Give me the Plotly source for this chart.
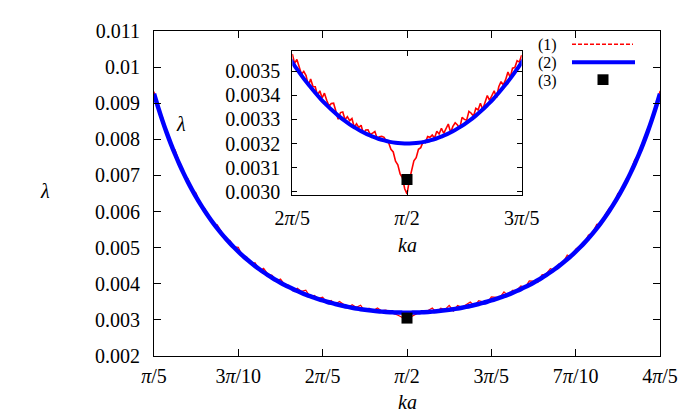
import plotly.graph_objects as go

# ---------------- data (ka in units of pi) ----------------
ka_curve = [0.200, 0.205, 0.210, 0.215, 0.220, 0.225, 0.230, 0.235, 0.240, 0.245,
            0.250, 0.255, 0.260, 0.265, 0.270, 0.275, 0.280, 0.285, 0.290, 0.295,
            0.300, 0.305, 0.310, 0.315, 0.320, 0.325, 0.330, 0.335, 0.340, 0.345,
            0.350, 0.355, 0.360, 0.365, 0.370, 0.375, 0.380, 0.385, 0.390, 0.395,
            0.400, 0.405, 0.410, 0.415, 0.420, 0.425, 0.430, 0.435, 0.440, 0.445,
            0.450, 0.455, 0.460, 0.465, 0.470, 0.475, 0.480, 0.485, 0.490, 0.495,
            0.500, 0.505, 0.510, 0.515, 0.520, 0.525, 0.530, 0.535, 0.540, 0.545,
            0.550, 0.555, 0.560, 0.565, 0.570, 0.575, 0.580, 0.585, 0.590, 0.595,
            0.600, 0.605, 0.610, 0.615, 0.620, 0.625, 0.630, 0.635, 0.640, 0.645,
            0.650, 0.655, 0.660, 0.665, 0.670, 0.675, 0.680, 0.685, 0.690, 0.695,
            0.700, 0.705, 0.710, 0.715, 0.720, 0.725, 0.730, 0.735, 0.740, 0.745,
            0.750, 0.755, 0.760, 0.765, 0.770, 0.775, 0.780, 0.785, 0.790, 0.795,
            0.800]

# series (2): smooth curve
lam_curve = [0.009262, 0.008877, 0.008518, 0.008186, 0.007876, 0.007587, 0.007317, 0.007065, 0.006829, 0.006608,
             0.006400, 0.006205, 0.006022, 0.005850, 0.005687, 0.005534, 0.005390, 0.005254, 0.005125, 0.005004,
             0.004889, 0.004781, 0.004678, 0.004581, 0.004489, 0.004402, 0.004319, 0.004241, 0.004167, 0.004097,
             0.004031, 0.003968, 0.003909, 0.003852, 0.003799, 0.003749, 0.003702, 0.003657, 0.003615, 0.003575,
             0.003538, 0.003503, 0.003470, 0.003440, 0.003411, 0.003384, 0.003360, 0.003337, 0.003316, 0.003297,
             0.003280, 0.003265, 0.003251, 0.003239, 0.003229, 0.003220, 0.003213, 0.003207, 0.003203, 0.003201,
             0.003200, 0.003201, 0.003203, 0.003207, 0.003213, 0.003220, 0.003229, 0.003239, 0.003251, 0.003265,
             0.003280, 0.003297, 0.003316, 0.003337, 0.003360, 0.003384, 0.003411, 0.003440, 0.003470, 0.003503,
             0.003538, 0.003575, 0.003615, 0.003657, 0.003702, 0.003749, 0.003799, 0.003852, 0.003909, 0.003968,
             0.004031, 0.004097, 0.004167, 0.004241, 0.004319, 0.004402, 0.004489, 0.004581, 0.004678, 0.004781,
             0.004889, 0.005004, 0.005125, 0.005254, 0.005390, 0.005534, 0.005687, 0.005850, 0.006022, 0.006205,
             0.006400, 0.006608, 0.006829, 0.007065, 0.007317, 0.007587, 0.007876, 0.008186, 0.008518, 0.008877,
             0.009262]

# series (1): noisy numerical data, as seen in the main panel
lam_noisy_main = [0.009322, 0.008837, 0.008618, 0.008206, 0.007816, 0.007707, 0.007357, 0.007035, 0.006919, 0.006618,
                  0.006510, 0.006155, 0.006092, 0.005880, 0.005667, 0.005634, 0.005440, 0.005194, 0.005205, 0.005024,
                  0.005009, 0.004751, 0.004738, 0.004581, 0.004579, 0.004362, 0.004429, 0.004271, 0.004237, 0.004077,
                  0.004131, 0.003978, 0.003959, 0.003802, 0.003879, 0.003789, 0.003822, 0.003647, 0.003675, 0.003595,
                  0.003628, 0.003473, 0.003540, 0.003440, 0.003511, 0.003424, 0.003340, 0.003417, 0.003346, 0.003407,
                  0.003240, 0.003325, 0.003261, 0.003329, 0.003249, 0.003270, 0.003226, 0.003185, 0.003120, 0.003060,
                  0.002960, 0.003090, 0.003150, 0.003215, 0.003240, 0.003260, 0.003329, 0.003209, 0.003321, 0.003285,
                  0.003400, 0.003247, 0.003396, 0.003347, 0.003420, 0.003494, 0.003391, 0.003530, 0.003500, 0.003463,
                  0.003638, 0.003625, 0.003615, 0.003777, 0.003672, 0.003819, 0.003819, 0.003942, 0.003899, 0.004078,
                  0.004071, 0.004037, 0.004247, 0.004271, 0.004419, 0.004382, 0.004549, 0.004591, 0.004798, 0.004741,
                  0.004959, 0.005054, 0.005115, 0.005344, 0.005410, 0.005644, 0.005657, 0.005910, 0.006102, 0.006205,
                  0.006500, 0.006558, 0.006899, 0.007095, 0.007437, 0.007567, 0.007936, 0.008276, 0.008528, 0.008917,
                  0.009342]

# series (1) in the zoomed inset
ka_inset = [0.400, 0.402, 0.404, 0.406, 0.408, 0.410, 0.412, 0.414, 0.416, 0.418,
            0.420, 0.422, 0.424, 0.426, 0.428, 0.430, 0.432, 0.434, 0.436, 0.438,
            0.440, 0.442, 0.444, 0.446, 0.448, 0.450, 0.452, 0.454, 0.456, 0.458,
            0.460, 0.462, 0.464, 0.466, 0.468, 0.470, 0.472, 0.474, 0.476, 0.478,
            0.480, 0.482, 0.484, 0.486, 0.488, 0.490, 0.492, 0.494, 0.496, 0.498,
            0.500, 0.502, 0.504, 0.506, 0.508, 0.510, 0.512, 0.514, 0.516, 0.518,
            0.520, 0.522, 0.524, 0.526, 0.528, 0.530, 0.532, 0.534, 0.536, 0.538,
            0.540, 0.542, 0.544, 0.546, 0.548, 0.550, 0.552, 0.554, 0.556, 0.558,
            0.560, 0.562, 0.564, 0.566, 0.568, 0.570, 0.572, 0.574, 0.576, 0.578,
            0.580, 0.582, 0.584, 0.586, 0.588, 0.590, 0.592, 0.594, 0.596, 0.598,
            0.600]
lam_inset = [0.0035728, 0.0035336, 0.0035497, 0.0035162, 0.0034881, 0.0035001, 0.0034827, 0.0034405, 0.0034687, 0.0034372,
             0.0034360, 0.0034001, 0.0034195, 0.0033894, 0.0034095, 0.0033799, 0.0033556, 0.0033667, 0.0033679, 0.0033345,
             0.0033014, 0.0033287, 0.0033312, 0.0032989, 0.0033119, 0.0032953, 0.0033039, 0.0032678, 0.0032819, 0.0032664,
             0.0032761, 0.0032410, 0.0032563, 0.0032568, 0.0032376, 0.0032436, 0.0032499, 0.0032214, 0.0032283, 0.0032303,
             0.0032260, 0.0032090, 0.0032030, 0.0031760, 0.0031650, 0.0031270, 0.0031120, 0.0030740, 0.0030580, 0.0030120,
             0.0029900, 0.0030460, 0.0030820, 0.0031280, 0.0031410, 0.0031760, 0.0031830, 0.0032080, 0.0032040, 0.0032290,
             0.0032260, 0.0032353, 0.0032233, 0.0032514, 0.0032399, 0.0032636, 0.0032426, 0.0032618, 0.0032813, 0.0032460,
             0.0032711, 0.0032864, 0.0032769, 0.0032628, 0.0033089, 0.0033003, 0.0032969, 0.0033339, 0.0033262, 0.0033137,
             0.0033464, 0.0033395, 0.0033679, 0.0033417, 0.0033756, 0.0033999, 0.0033795, 0.0033994, 0.0034195, 0.0033901,
             0.0034360, 0.0034572, 0.0034437, 0.0034655, 0.0034977, 0.0034751, 0.0035131, 0.0035162, 0.0035447, 0.0035386,
             0.0035678]

# series (3): single point at the band centre
ka_point = [0.5]
lam_point = [0.00305]

main_xticks = [0.2, 0.3, 0.4, 0.5, 0.6, 0.7, 0.8]
main_xlabels = ["<i>π</i>/5", "3<i>π</i>/10", "2<i>π</i>/5", "<i>π</i>/2",
                "3<i>π</i>/5", "7<i>π</i>/10", "4<i>π</i>/5"]
main_yticks = [0.002, 0.003, 0.004, 0.005, 0.006, 0.007, 0.008, 0.009, 0.010, 0.011]
main_ylabels = ["0.002", "0.003", "0.004", "0.005", "0.006", "0.007", "0.008", "0.009", "0.01", "0.011"]
inset_xticks = [0.4, 0.5, 0.6]
inset_xlabels = ["2<i>π</i>/5", "<i>π</i>/2", "3<i>π</i>/5"]
inset_yticks = [0.0030, 0.0031, 0.0032, 0.0033, 0.0034, 0.0035]
inset_ylabels = ["0.0030", "0.0031", "0.0032", "0.0033", "0.0034", "0.0035"]
legend_labels = ["(1)", "(2)", "(3)"]

# ---------------- layout geometry (window pixels) ----------------
# the page body has an 8px margin, so the figure is shrunk and shifted by it
OFF = 8
W, H = 692 - OFF, 415 - OFF
L, R, T, B = 154, 660, 22, 356          # plot area in window pixels
FONT = "Liberation Serif"
FS = 20


def px(x):
    return (x - L) / (R - L)


def py(y):
    return (B - y) / (B - T)


RED = "#ff0000"
BLUE = "#0000ff"

fig = go.Figure()
# main panel
fig.add_trace(go.Scatter(x=ka_curve, y=lam_noisy_main, mode="lines",
                         line=dict(color=RED, width=1.2), xaxis="x", yaxis="y",
                         showlegend=False, hoverinfo="skip"))
fig.add_trace(go.Scatter(x=ka_curve, y=lam_curve, mode="lines", line_shape="spline",
                         line=dict(color=BLUE, width=4.5), xaxis="x", yaxis="y",
                         showlegend=False, hoverinfo="skip"))
fig.add_trace(go.Scatter(x=ka_point, y=lam_point, mode="markers",
                         marker=dict(symbol="square", size=11, color="black"),
                         xaxis="x", yaxis="y", showlegend=False, hoverinfo="skip"))
# inset panel
fig.add_trace(go.Scatter(x=ka_inset, y=lam_inset, mode="lines",
                         line=dict(color=RED, width=1.6), xaxis="x2", yaxis="y2",
                         showlegend=False, hoverinfo="skip"))
fig.add_trace(go.Scatter(x=ka_curve, y=lam_curve, mode="lines", line_shape="spline",
                         line=dict(color=BLUE, width=4), xaxis="x2", yaxis="y2",
                         showlegend=False, hoverinfo="skip"))
fig.add_trace(go.Scatter(x=ka_point, y=lam_point, mode="markers",
                         marker=dict(symbol="square", size=11, color="black"),
                         xaxis="x2", yaxis="y2", showlegend=False, hoverinfo="skip"))

axis_common = dict(showgrid=False, zeroline=False, showline=True, linecolor="black",
                   linewidth=1, ticks="inside", tickcolor="black", tickwidth=1,
                   mirror="allticks", tickfont=dict(family=FONT, size=FS, color="black"),
                   tickmode="array")

ix0, ix1 = px(292.3), px(521.7)
iy0, iy1 = py(190.3), py(43)

fig.update_layout(
    width=W, height=H, autosize=False,
    margin=dict(l=L - OFF, r=W - (R - OFF), t=T - OFF, b=H - (B - OFF), pad=0),
    paper_bgcolor="white", plot_bgcolor="rgba(0,0,0,0)",
    font=dict(family=FONT, size=FS, color="black"),
    xaxis=dict(axis_common, domain=[0, 1], range=[0.2, 0.8], tickvals=main_xticks,
               ticktext=main_xlabels, ticklen=7, anchor="y", ticklabelstandoff=2),
    yaxis=dict(axis_common, domain=[0, 1], range=[0.002, 0.011], tickvals=main_yticks,
               ticktext=main_ylabels, ticklen=7, anchor="x", ticklabelstandoff=9),
    xaxis2=dict(axis_common, domain=[ix0, ix1], range=[0.4, 0.6], tickvals=inset_xticks,
                ticktext=inset_xlabels, ticklen=5, anchor="y2", ticklabelstandoff=5),
    yaxis2=dict(axis_common, domain=[iy0, iy1], range=[0.002987, 0.003583],
                tickvals=inset_yticks, ticktext=inset_ylabels, ticklen=5,
                anchor="x2", ticklabelstandoff=7),
)

ann = []


def text(x, y, s, xanchor="center", size=FS):
    ann.append(dict(x=px(x), y=py(y), xref="paper", yref="paper", text=s,
                    showarrow=False, xanchor=xanchor, yanchor="middle",
                    font=dict(family=FONT, size=size, color="black")))


text(45, 186, "<i>λ</i>")
text(181, 118, "<i>λ</i>")
text(407, 403, "<i>ka</i>")
text(407, 242, "<i>ka</i>")
for lbl, yy in zip(legend_labels, [36.5, 55, 73.5]):
    text(559, yy, lbl, xanchor="right", size=16)
fig.update_layout(annotations=ann)

shapes = [
    dict(type="line", xref="paper", yref="paper", x0=px(572), x1=px(633), y0=py(35.5), y1=py(35.5),
         line=dict(color=RED, width=1.5, dash="4px,2px")),
    dict(type="line", xref="paper", yref="paper", x0=px(572), x1=px(635), y0=py(54), y1=py(54),
         line=dict(color=BLUE, width=4)),
    dict(type="rect", xref="paper", yref="paper", x0=px(597.5), x1=px(608.5), y0=py(66.5), y1=py(77.5),
         line=dict(width=0), fillcolor="black"),
]
fig.update_layout(shapes=shapes)

fig.write_html("out.html")
